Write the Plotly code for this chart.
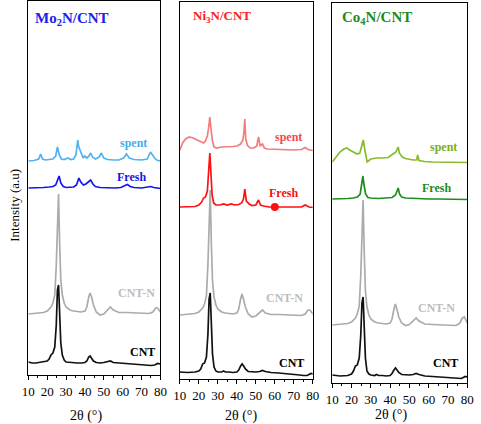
import plotly.graph_objects as go

# ---------------- data (intensity in arbitrary units, stacked offsets) ----------------
# Panel 1: Mo2N/CNT
mo_cnt_x = [10, 12, 14, 16, 18, 20, 21, 22, 23, 24, 24.8, 25.4, 26, 26.6, 27.2, 28, 29, 30, 32, 34, 36, 38, 40, 41, 42, 42.7, 43.5, 44.5, 46, 48, 50, 52, 53.5, 55, 58, 61, 64, 67, 70, 73, 75, 77, 78.5, 80]
mo_cnt_y = [13, 12, 12, 12.5, 13, 14, 16, 20, 22, 28, 50, 85, 90, 60, 32, 20, 15, 13, 12.5, 12, 12, 12, 12.5, 14, 18, 19, 17, 14, 12.5, 12, 12.5, 13.5, 14, 12.5, 12, 11.5, 11.5, 11, 10.5, 10, 9.5, 10, 11.5, 11]
mo_cntn_x = [10, 14, 18, 20, 22, 23, 24, 24.8, 25.4, 26, 26.6, 27.2, 28, 29, 30, 32, 34, 36, 38, 40, 41, 42, 42.7, 43.5, 44.5, 46, 48, 50, 52, 53.5, 55, 58, 62, 66, 70, 74, 76, 77.5, 78.5, 80]
mo_cntn_y = [61, 61.5, 62.5, 64, 68, 72, 80, 110, 160, 181, 130, 95, 80, 72, 68, 65, 64, 63.5, 63, 64, 68, 78, 82, 78, 70, 63, 60, 61, 65, 68, 65, 62.5, 62.5, 62, 62, 61.5, 63, 67, 67, 63]
mo_fresh_x = [10, 14, 18, 21, 23, 24.5, 25.5, 26.3, 27.2, 28.5, 30, 32, 34, 35.5, 36.8, 37.8, 39.2, 40.5, 41.8, 43, 44.2, 45.5, 48, 52, 56, 59, 61, 62.5, 64, 66, 70, 73, 74.8, 76.5, 78, 80]
mo_fresh_y = [187, 187, 187.5, 188, 188.5, 190, 196, 199, 192, 188.5, 187.5, 187.5, 188, 190, 197, 193, 190, 191, 193, 195, 191, 188.5, 187.5, 187, 187, 187.5, 189, 190.5, 188.5, 187.5, 187, 187.5, 188.5, 187.5, 187, 186.5]
mo_spent_x = [10, 13, 15.5, 16.5, 17.5, 19, 21, 23, 24.5, 25.4, 26.4, 27.5, 29, 31, 32.5, 34, 35.2, 35.8, 36.2, 36.6, 37.4, 38.3, 39, 39.8, 41, 42.2, 43, 44, 45.5, 47.5, 48.7, 50, 52, 55, 58, 60.5, 62, 63.5, 66, 70, 73, 74.8, 76.5, 78, 80]
mo_spent_y = [214, 214.5, 216, 221, 216, 215, 215.5, 216, 219, 228, 220, 216, 215.5, 217, 215.5, 216, 220, 230, 235, 229, 225, 221, 217, 219, 217, 219, 222, 218, 216, 218, 222, 217, 215.5, 215, 215, 217, 221, 217, 215.5, 215, 216, 223, 218, 215, 214]

# Panel 2: Ni3N/CNT
ni_cnt_x = [10, 14, 18, 20, 21, 22, 23, 24, 24.8, 25.4, 26, 26.6, 27.2, 28, 29, 30, 32, 33, 34, 36, 38, 40, 41, 42, 42.8, 43.6, 44.5, 46, 48, 50, 52, 53.5, 55, 58, 62, 66, 70, 73, 75, 77, 79, 80]
ni_cnt_y = [7, 6.5, 7, 8, 10, 15, 16, 22, 45, 80, 86, 55, 25, 12, 8, 7, 7, 8, 7, 7, 6.5, 7, 9, 13, 15, 13, 10, 7.5, 7, 7, 7.5, 8.5, 7.5, 6.5, 6, 5.5, 5, 4, 3.5, 3.5, 5.5, 5]
ni_cntn_x = [10, 14, 18, 20, 22, 23, 24, 24.8, 25.4, 26, 26.6, 27.2, 28, 29, 30, 32, 34, 36, 38, 40, 41, 42, 42.7, 43.5, 44.5, 46, 48, 50, 52, 53.5, 55, 58, 62, 66, 70, 74, 76, 77.5, 78.5, 80]
ni_cntn_y = [64, 64.5, 65.5, 67, 71, 75, 83, 115, 165, 189, 135, 98, 82, 74, 70, 67, 66, 65.5, 65, 66, 70, 80, 85, 80, 72, 65, 62, 63, 67, 69, 66, 64.5, 64.5, 64, 64, 63.5, 65, 69, 69, 65]
ni_fresh_x = [10, 14, 18, 20, 21.5, 22.5, 23.5, 24.5, 25.2, 25.8, 26.4, 27, 27.8, 29, 31, 33, 35, 37, 39, 41, 42.5, 43.5, 44.2, 45, 46.5, 48, 50, 51.4, 52.5, 54, 57, 60, 63, 67, 71, 74, 76, 78, 80]
ni_fresh_y = [172, 172, 172.5, 174, 177, 181, 182, 188, 210, 226, 205, 184, 176, 174, 174, 175, 174, 175, 174, 174.5, 176, 180, 190, 178, 175, 173.5, 174, 179, 174, 173, 172, 172, 172, 172, 171.5, 172, 174, 172, 171.5]
ni_marker_x = [60]
ni_marker_y = [172]
ni_spent_x = [10, 11.5, 13, 15, 17, 19, 21, 22.5, 23.5, 24.5, 25.2, 25.8, 26.4, 27.2, 28, 29.5, 32, 35, 38, 40, 42, 43.2, 43.8, 44.2, 44.7, 45.5, 47, 49, 50.5, 51.4, 52.3, 53.5, 54.5, 56, 60, 65, 70, 74, 76, 77.5, 80]
ni_spent_y = [229, 236, 240, 242, 241, 239, 237, 236, 238, 243, 252, 262, 250, 238, 232, 231, 232, 232, 232.5, 233, 235, 239, 248, 260, 240, 234, 231, 231, 233, 242, 233, 235, 231, 230, 229.5, 229, 229, 229.5, 231.5, 229.5, 228.5]

# Panel 3: Co4N/CNT
co_cnt_x = [10, 14, 18, 20, 21, 22, 23, 24, 24.8, 25.4, 26, 26.6, 27.2, 28, 29, 30, 32, 33, 34, 36, 38, 40, 41, 42, 42.8, 43.6, 44.5, 46, 48, 50, 52, 53.5, 55, 58, 62, 66, 70, 73, 75, 77, 79, 80]
co_cnt_y = [8, 7, 7.5, 9, 12, 17, 18, 25, 48, 80, 86, 55, 25, 12, 9, 8, 7.5, 8.5, 7.5, 7.5, 7, 7.5, 9.5, 13, 15, 13, 10.5, 8.5, 8, 8, 8.5, 9.5, 8.5, 7, 6.5, 6, 5.5, 5, 4.5, 4.5, 6.5, 6]
co_cntn_x = [10, 14, 18, 20, 22, 23, 24, 24.8, 25.4, 26, 26.6, 27.2, 28, 29, 30, 32, 34, 36, 38, 40, 41, 42, 42.7, 43.5, 44.5, 46, 48, 50, 52, 53.5, 55, 58, 62, 66, 70, 74, 76, 77.5, 78.5, 80]
co_cntn_y = [58, 58.5, 59.5, 61, 65, 69, 77, 108, 160, 183, 130, 92, 76, 68, 64, 61, 60, 59.5, 59, 60, 64, 74, 79, 74, 66, 60, 57.5, 58.5, 62.5, 65, 62, 59, 58.5, 58, 58, 57.5, 59.5, 65, 66, 60]
co_fresh_x = [10, 14, 18, 21, 23, 24.5, 25.3, 25.9, 26.5, 27.3, 28.5, 30, 34, 38, 41, 42.8, 43.6, 44.2, 44.9, 46, 48, 52, 56, 60, 65, 70, 75, 80]
co_fresh_y = [184, 184, 184.5, 185, 186, 189, 200, 207, 198, 189, 185.5, 185, 184.5, 185, 185.5, 188, 193, 195, 189, 186, 185, 184.5, 184.5, 184, 184, 184, 184, 183.5]
co_spent_x = [10, 12, 14, 16, 17.5, 19, 21, 23, 24.3, 25.2, 26.1, 27, 28.1, 30, 33, 36, 39, 41.5, 43, 43.8, 44.2, 44.8, 46.3, 48, 50, 52, 53.8, 54.3, 55, 58, 62, 66, 70, 75, 80]
co_spent_y = [221, 226, 231, 234, 235, 233, 231, 229, 230, 237, 243, 232, 221, 224, 225, 225, 225.5, 229, 231, 234, 236, 230, 226, 224.5, 223.5, 223, 223, 228, 222.5, 221.5, 221, 221, 221, 221, 220.5]

x_ticks = [10, 20, 30, 40, 50, 60, 70, 80]
x_tick_labels = ["10", "20", "30", "40", "50", "60", "70", "80"]
series_names = ["CNT", "CNT-N", "Fresh", "spent"]

# ---------------- layout helpers ----------------
W, H = 481, 424
SERIF = "Liberation Serif, Times New Roman, serif"
GRAY = "#ABABAB"

panels = [
    dict(ax="", x0=22, x1=158, top=1, bot=375,
         curves=[(mo_cnt_x, mo_cnt_y, "#111111"), (mo_cntn_x, mo_cntn_y, GRAY),
                 (mo_fresh_x, mo_fresh_y, "#1414F0"), (mo_spent_x, mo_spent_y, "#4FB2F2")],
         title="<b>Mo<sub>2</sub>N/CNT</b>", tcol="#2020E8", tsize=15, tx=12.6, ty=356,
         labels=[("spent", 73.8, 232, "#45ADEE"), ("Fresh", 73.3, 198, "#1515E0"),
                 ("CNT-N", 78, 82, "#BDBDBD"), ("CNT", 78, 23, "#000000")],
         xt=81, xty=416),
    dict(ax="2", x0=178, x1=315, top=2, bot=379,
         curves=[(ni_cnt_x, ni_cnt_y, "#111111"), (ni_cntn_x, ni_cntn_y, GRAY),
                 (ni_fresh_x, ni_fresh_y, "#FF1010"), (ni_spent_x, ni_spent_y, "#F47C7C")],
         title="<b>Ni<sub>3</sub>N/CNT</b>", tcol="#FF1A1A", tsize=13, tx=16.1, ty=363,
         labels=[("spent", 75.4, 242, "#EE4A4A"), ("Fresh", 73.4, 186, "#EE1111"),
                 ("CNT-N", 75.9, 81, "#BDBDBD"), ("CNT", 76.4, 16, "#000000")],
         xt=241, xty=416),
    dict(ax="3", x0=335, x1=474, top=3, bot=383,
         curves=[(co_cnt_x, co_cnt_y, "#111111"), (co_cntn_x, co_cntn_y, GRAY),
                 (co_fresh_x, co_fresh_y, "#1E8C1E"), (co_spent_x, co_spent_y, "#86BC2C")],
         title="<b>Co<sub>4</sub>N/CNT</b>", tcol="#1E8A1E", tsize=15, tx=14, ty=365,
         labels=[("spent", 75.5, 236, "#7AAE24"), ("Fresh", 72.4, 195, "#1E8A1E"),
                 ("CNT-N", 74.5, 75, "#BDBDBD"), ("CNT", 76.5, 20, "#000000")],
         xt=396, xty=415),
]

fig = go.Figure()
annotations = []
layout_axes = {}

for p in panels:
    xa = "x" + p["ax"]
    ya = "y" + p["ax"]
    hgt = p["bot"] - p["top"]
    for (xs, ys, col), nm in zip(p["curves"], series_names):
        fig.add_trace(go.Scatter(x=xs, y=ys, mode="lines", name=nm,
                                 line=dict(color=col, width=1.7),
                                 xaxis=xa, yaxis=ya, showlegend=False))
    layout_axes["xaxis" + p["ax"]] = dict(
        domain=[p["x0"] / W, p["x1"] / W], anchor=ya, range=[10, 80],
        tickmode="array", tickvals=x_ticks, ticktext=x_tick_labels,
        ticks="outside", ticklen=4, tickwidth=1, tickcolor="black",
        minor=dict(dtick=5, tick0=10, ticks="outside", ticklen=2, tickcolor="black"),
        showline=True, mirror=True, linecolor="black", linewidth=1,
        showgrid=False, zeroline=False,
        tickfont=dict(family=SERIF, size=13, color="black"))
    layout_axes["yaxis" + p["ax"]] = dict(
        domain=[(H - p["bot"]) / H, (H - p["top"]) / H], anchor=xa, range=[0, hgt],
        showline=True, mirror=True, linecolor="black", linewidth=1,
        showticklabels=False, ticks="", showgrid=False, zeroline=False)
    annotations.append(dict(xref=xa, yref=ya, x=p["tx"], y=p["ty"], text=p["title"],
                            showarrow=False, xanchor="left", yanchor="middle",
                            font=dict(family=SERIF, size=p["tsize"], color=p["tcol"])))
    for txt, lx, ly, lc in p["labels"]:
        annotations.append(dict(xref=xa, yref=ya, x=lx, y=ly, text="<b>" + txt + "</b>",
                                showarrow=False, xanchor="right", yanchor="middle",
                                font=dict(family=SERIF, size=12, color=lc)))
    annotations.append(dict(xref="paper", yref="paper", x=p["xt"] / W, y=1 - p["xty"] / H,
                            text="2θ (°)", showarrow=False, xanchor="center", yanchor="middle",
                            font=dict(family=SERIF, size=14, color="black")))

# red dot on Ni3N fresh
fig.add_trace(go.Scatter(x=ni_marker_x, y=ni_marker_y, mode="markers",
                         marker=dict(color="#FF1010", size=8),
                         xaxis="x2", yaxis="y2", showlegend=False))

annotations.append(dict(xref="paper", yref="paper", x=8 / W, y=1 - 205 / H,
                        text="Intensity (a.u)", textangle=-90, showarrow=False,
                        xanchor="center", yanchor="middle",
                        font=dict(family=SERIF, size=13, color="black")))

fig.update_layout(width=W, height=H, margin=dict(l=0, r=0, t=0, b=0),
                  paper_bgcolor="white", plot_bgcolor="white",
                  annotations=annotations, **layout_axes)

fig.write_html("out.html")
